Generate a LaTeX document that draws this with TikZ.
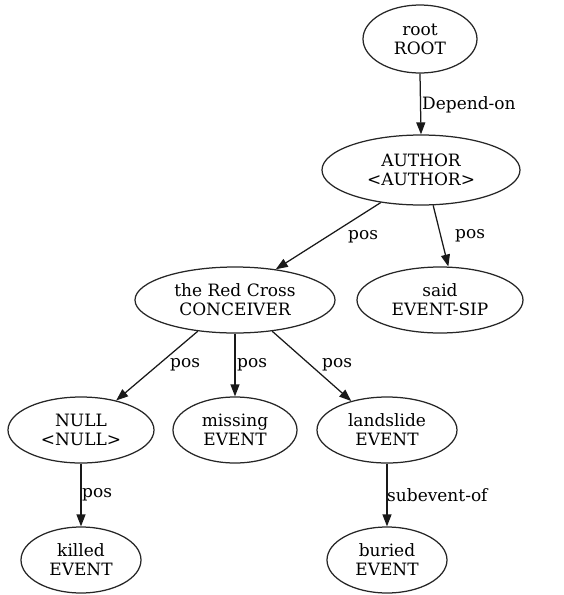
\documentclass[tikz,border=0pt]{standalone}
\usepackage{fontspec}
\setmainfont{DejaVu Serif}
\usetikzlibrary{shapes.geometric,arrows.meta}
\begin{document}
\begin{tikzpicture}[x=1pt,y=-1pt,
  every node/.style={font=\fontsize{17}{19}\selectfont, text=black},
  ent/.style={ellipse, draw=black!85, line width=1.25pt, inner sep=0pt, align=center},
  rel/.style={draw=black!90, line width=1.25pt, -{Triangle[length=12pt,width=9pt]}},
  lab/.style={inner sep=0pt, anchor=west}
]
\useasboundingbox (0,0) rectangle (564,595);

% entities
\node[ent, minimum width=114, minimum height=68] (root) at (420,39) {root\\ROOT};
\node[ent, minimum width=198, minimum height=70] (author) at (421,170) {AUTHOR\\<AUTHOR>};
\node[ent, minimum width=200, minimum height=66] (conc) at (235,300) {the Red Cross\\CONCEIVER};
\node[ent, minimum width=166, minimum height=66] (said) at (440,300) {said\\EVENT-SIP};
\node[ent, minimum width=146, minimum height=66] (null) at (81,430) {NULL\\<NULL>};
\node[ent, minimum width=124, minimum height=66] (missing) at (235,430) {missing\\EVENT};
\node[ent, minimum width=140, minimum height=66] (landslide) at (387,430) {landslide\\EVENT};
\node[ent, minimum width=120, minimum height=66] (killed) at (81,560) {killed\\EVENT};
\node[ent, minimum width=120, minimum height=66] (buried) at (387,560) {buried\\EVENT};

% relations
\draw[rel] (root.south) -- (author.north);
\draw[rel] (author.219) -- (conc.37);
\draw[rel] (author.289) -- (said.76);
\draw[rel] (conc.220) -- (null.40);
\draw[rel] (conc.south) -- (missing.north);
\draw[rel] (conc.320) -- (landslide.141);
\draw[rel] (null.south) -- (killed.north);
\draw[rel] (landslide.south) -- (buried.north);

% relation labels
\node[lab] (l1) at (422,105) {Depend-on};
\node[lab] (l2) at (348,237) {pos};
\node[lab] (l3) at (455,236) {pos};
\node[lab] (l4) at (170,365) {pos};
\node[lab] (l5) at (237,365) {pos};
\node[lab] (l6) at (322,365) {pos};
\node[lab] (l7) at (82,495) {pos};
\node[lab] (l8) at (387,495) {subevent-of};
\end{tikzpicture}
\end{document}
